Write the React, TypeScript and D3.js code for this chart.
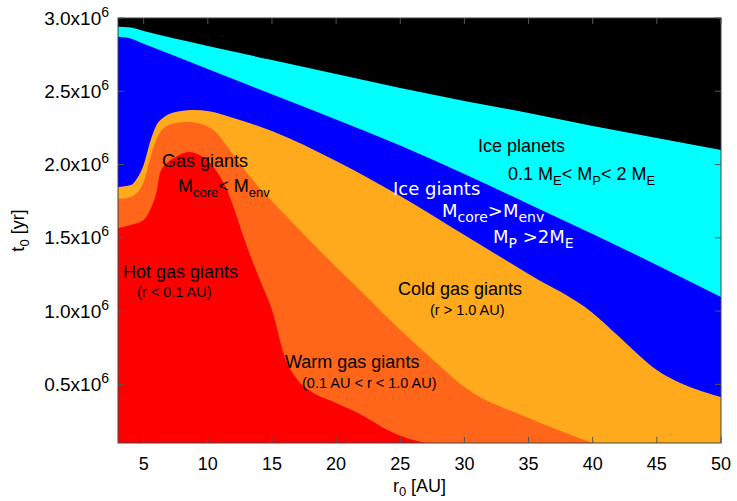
import React from "react";
import * as d3 from "d3";

// r0 [AU] sample positions and region upper boundaries (t0 in 10^6 yr)
const iceX = [3, 4, 5, 10, 15, 20, 25, 30, 35, 40, 45, 50];
const iceTop = [2.941, 2.935, 2.911, 2.809, 2.713, 2.618, 2.522, 2.434, 2.352, 2.263, 2.181, 2.099];

const giantIceX = [3, 3.9, 5, 10, 15, 20, 25, 30, 35, 40, 45, 50];
const giantIceTop = [2.872, 2.862, 2.824, 2.652, 2.48, 2.308, 2.13, 1.936, 1.731, 1.526, 1.315, 1.096];

const coldX = [3, 4, 4.5, 5, 5.5, 6, 6.5, 7.5, 9, 10, 12, 15, 20, 25, 30, 35, 40, 42, 45, 48, 50];
const coldTop = [1.847, 1.86, 1.908, 1.997, 2.154, 2.27, 2.318, 2.359, 2.372, 2.365, 2.318, 2.229, 2.024, 1.785, 1.519, 1.253, 0.987, 0.83, 0.598, 0.468, 0.414];

const warmX = [3, 4, 5, 5.7, 6.3, 7.2, 8.5, 9.7, 10.7, 11.7, 12.6, 13.3, 14.9, 16.4, 17.9, 20, 22, 25, 28, 30, 35, 40];
const warmTop = [1.765, 1.779, 1.881, 2.099, 2.222, 2.277, 2.29, 2.27, 2.215, 2.099, 1.997, 1.915, 1.758, 1.622, 1.485, 1.301, 1.13, 0.871, 0.632, 0.482, 0.271, 0.1];

const hotX = [3, 4, 5, 5.5, 6, 6.3, 7, 7.5, 8.5, 9.5, 10.5, 11.5, 12, 13, 14, 15, 16, 17, 18, 20, 22, 24, 26, 27];
const hotTop = [1.567, 1.588, 1.622, 1.69, 1.813, 1.949, 2.024, 2.052, 2.086, 2.058, 1.977, 1.826, 1.71, 1.451, 1.226, 1.008, 0.687, 0.53, 0.455, 0.373, 0.291, 0.189, 0.12, 0.1];

const xTicks = [5, 10, 15, 20, 25, 30, 35, 40, 45, 50];
const yTicks = [0.5, 1.0, 1.5, 2.0, 2.5, 3.0];
const yTickLabels = ["0.5", "1.0", "1.5", "2.0", "2.5", "3.0"];

const W = 737;
const H = 501;
const L = 118, R = 721, T = 18, B = 443;

type Seg = { t: string; sub?: boolean };

function Rich({ x, y, segs, size, fill, family, subSize }: { x: number; y: number; segs: Seg[]; size: number; fill: string; family: string; subSize?: number }) {
  const shift = size * 0.3;
  let cur = 0;
  return (
    <text x={x} y={y} fontSize={size} fill={fill} fontFamily={family}>
      {segs.map((s, i) => {
        const target = s.sub ? shift : 0;
        const dy = target - cur;
        cur = target;
        return (
          <tspan key={i} dy={dy} fontSize={s.sub ? (subSize ?? size * 0.7) : size}>
            {s.t}
          </tspan>
        );
      })}
    </text>
  );
}

export default function App() {
  const x = d3.scaleLinear().domain([3, 50]).range([L, R]);
  const y = d3.scaleLinear().domain([0.1, 3.0]).range([B, T]);

  const area = d3
    .area<[number, number]>()
    .x((d) => x(d[0]))
    .y0(y(0.1))
    .y1((d) => y(d[1]))
    .curve(d3.curveMonotoneX);

  const zip = (xs: number[], ys: number[]) => xs.map((v, i) => [v, ys[i]] as [number, number]);

  const layers: { d: [number, number][]; c: string }[] = [
    { d: zip(iceX, iceTop), c: "#00ffff" },
    { d: zip(giantIceX, giantIceTop), c: "#0000ff" },
    { d: zip(coldX, coldTop), c: "#ffa91c" },
    { d: zip(warmX, warmTop), c: "#ff661a" },
    { d: zip(hotX, hotTop), c: "#ff0000" },
  ];

  const sans = "'Liberation Sans', Arial, Helvetica, sans-serif";
  const dejavu = "'DejaVu Sans', sans-serif";
  const tickCol = "#555";

  return (
    <svg width={W} height={H} style={{ position: "absolute", left: 0, top: 0, background: "#fff" }}>
      <defs>
        <clipPath id="plot">
          <rect x={L} y={T} width={R - L} height={B - T} />
        </clipPath>
      </defs>
      <g clipPath="url(#plot)">
        <rect x={L} y={T} width={R - L} height={B - T} fill="#000" />
        {layers.map((l, i) => (
          <path key={i} d={area(l.d) || ""} fill={l.c} />
        ))}
      </g>

      {/* region labels */}
      <Rich x={162} y={167} size={18} fill="#000" family={sans} segs={[{ t: "Gas giants" }]} />
      <Rich x={178} y={192} size={18} fill="#000" family={sans} subSize={13} segs={[{ t: "M" }, { t: "core", sub: true }, { t: "< M" }, { t: "env", sub: true }]} />
      <Rich x={123} y={278} size={18} fill="#000" family={sans} segs={[{ t: "Hot gas giants" }]} />
      <Rich x={137} y={297} size={14.5} fill="#000" family={sans} segs={[{ t: "(r < 0.1 AU)" }]} />
      <Rich x={398} y={295} size={18} fill="#000" family={sans} segs={[{ t: "Cold gas giants" }]} />
      <Rich x={430} y={315} size={14.5} fill="#000" family={sans} segs={[{ t: "(r > 1.0 AU)" }]} />
      <Rich x={285} y={368} size={18} fill="#000" family={sans} segs={[{ t: "Warm gas giants" }]} />
      <Rich x={302} y={388} size={14.5} fill="#000" family={sans} segs={[{ t: "(0.1 AU < r < 1.0 AU)" }]} />
      <Rich x={478} y={152} size={18} fill="#000" family={sans} segs={[{ t: "Ice planets" }]} />
      <Rich x={508} y={180} size={18} fill="#000" family={sans} subSize={13} segs={[{ t: "0.1 M" }, { t: "E", sub: true }, { t: "< M" }, { t: "P", sub: true }, { t: "< 2 M" }, { t: "E", sub: true }]} />
      <Rich x={393} y={195} size={18} fill="#fff" family={dejavu} segs={[{ t: "Ice giants" }]} />
      <Rich x={442} y={217} size={18} fill="#fff" family={dejavu} subSize={14} segs={[{ t: "M" }, { t: "core", sub: true }, { t: ">M" }, { t: "env", sub: true }]} />
      <Rich x={493} y={243} size={18} fill="#fff" family={dejavu} subSize={14} segs={[{ t: "M" }, { t: "P", sub: true }, { t: " >2M" }, { t: "E", sub: true }]} />

      {/* frame */}
      <rect x={L} y={T} width={R - L} height={B - T} fill="none" stroke="#444" strokeWidth={1} />

      {/* x ticks */}
      {xTicks.map((v) => (
        <g key={"x" + v}>
          <line x1={x(v)} x2={x(v)} y1={B} y2={B - 6} stroke={tickCol} />
          <line x1={x(v)} x2={x(v)} y1={T} y2={T + 6} stroke={tickCol} />
          <text x={x(v)} y={470} textAnchor="middle" fontSize={18} fontFamily={sans} fill="#000">
            {v}
          </text>
        </g>
      ))}

      {/* y ticks */}
      {yTicks.map((v, i) => (
        <g key={"y" + v}>
          <line x1={L} x2={L + 6} y1={y(v)} y2={y(v)} stroke={tickCol} />
          <line x1={R} x2={R - 6} y1={y(v)} y2={y(v)} stroke={tickCol} />
          <text x={109} y={y(v) + 6.5} textAnchor="end" fontSize={19} fontFamily={sans} fill="#000">
            {yTickLabels[i] + "x10"}
            <tspan dy={-8} fontSize={14}>6</tspan>
          </text>
        </g>
      ))}

      {/* axis titles */}
      <text x={(L + R) / 2} y={492} textAnchor="middle" fontSize={18} fontFamily={sans} fill="#000">
        r<tspan dy={4} fontSize={13}>0</tspan>
        <tspan dy={-4}> [AU]</tspan>
      </text>
      <text transform={`translate(24, ${(T + B) / 2}) rotate(-90)`} textAnchor="middle" fontSize={18} fontFamily={sans} fill="#000">
        t<tspan dy={5} fontSize={13}>0</tspan>
        <tspan dy={-5}> [yr]</tspan>
      </text>
    </svg>
  );
}
